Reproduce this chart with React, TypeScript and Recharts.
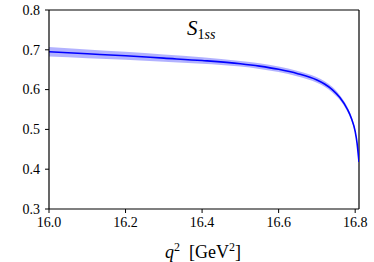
import React from "react";
import { ComposedChart, Area, Line, XAxis, YAxis, ReferenceLine } from "recharts";

const q2 = [16.0, 16.1, 16.2, 16.3, 16.4, 16.5, 16.55, 16.6, 16.65, 16.7, 16.72, 16.74, 16.76, 16.78, 16.79, 16.8, 16.805, 16.81];
const central = [0.695, 0.690, 0.685, 0.679, 0.673, 0.665, 0.659, 0.651, 0.640, 0.624, 0.614, 0.600, 0.580, 0.550, 0.528, 0.495, 0.465, 0.418];
const err = [0.012, 0.011, 0.010, 0.009, 0.008, 0.007, 0.007, 0.007, 0.007, 0.007, 0.007, 0.007, 0.006, 0.006, 0.005, 0.004, 0.003, 0.002];
const xTicks = [16.0, 16.2, 16.4, 16.6, 16.8];
const yTicks = [0.3, 0.4, 0.5, 0.6, 0.7, 0.8];

const data = q2.map((x, i) => ({
  x,
  y: central[i],
  band: [central[i] - err[i], central[i] + err[i]],
}));

const FONT = "Liberation Serif";

const XTick = (props: any) => {
  const { x, y, payload } = props;
  return (
    <text x={x} y={y + 11} textAnchor="middle" fontFamily={FONT} fontSize={14} fill="#000">
      {Number(payload.value).toFixed(1)}
    </text>
  );
};

const YTick = (props: any) => {
  const { x, y, payload } = props;
  return (
    <text x={x} y={y + 4.8} textAnchor="end" fontFamily={FONT} fontSize={14} fill="#000">
      {Number(payload.value).toFixed(1)}
    </text>
  );
};

export default function App() {
  return (
    <div style={{ position: "absolute", left: 0, top: 0, width: 374, height: 262, background: "#fff" }}>
      <ComposedChart
        width={374}
        height={262}
        data={data}
        margin={{ top: 10, right: 15, bottom: 0, left: 9 }}
      >
        <XAxis
          dataKey="x"
          type="number"
          domain={[16.0, 16.81]}
          ticks={xTicks}
          allowDataOverflow
          height={53}
          tickSize={4}
          tickMargin={3}
          tick={<XTick />}
          stroke="#000"
          axisLine={{ stroke: "#000", strokeWidth: 1.2 }}
          tickLine={{ stroke: "#000", strokeWidth: 1 }}
        />
        <YAxis
          type="number"
          domain={[0.3, 0.8]}
          ticks={yTicks}
          allowDataOverflow
          width={40}
          tickSize={4}
          tickMargin={5}
          tick={<YTick />}
          axisLine={{ stroke: "#000", strokeWidth: 1.2 }}
          tickLine={{ stroke: "#000", strokeWidth: 1 }}
        />
        <ReferenceLine y={0.8} stroke="#000" strokeWidth={1.2} />
        <ReferenceLine x={16.81} stroke="#000" strokeWidth={1.2} />
        <Area
          dataKey="band"
          type="monotone"
          fill="#0000ff"
          fillOpacity={0.3}
          stroke="none"
          isAnimationActive={false}
        />
        <Line
          dataKey="y"
          type="monotone"
          stroke="#0000ff"
          strokeWidth={1.6}
          dot={false}
          isAnimationActive={false}
        />
      </ComposedChart>
      <div
        style={{
          position: "absolute",
          left: 187,
          top: 18,
          fontFamily: FONT,
          fontSize: 21,
          lineHeight: "20px",
          color: "#000",
          whiteSpace: "nowrap",
        }}
      >
        <i>S</i>
        <sub style={{ fontSize: 14, fontStyle: "italic", verticalAlign: "-4px" }}>
          <span style={{ fontStyle: "normal" }}>1</span>ss
        </sub>
      </div>
      <div
        style={{
          position: "absolute",
          left: 165,
          top: 238,
          fontFamily: FONT,
          fontSize: 18,
          lineHeight: "18px",
          color: "#000",
          whiteSpace: "nowrap",
        }}
      >
        <i>q</i>
        <sup style={{ fontSize: 12, verticalAlign: "7px" }}>2</sup>
        {"\u00a0\u00a0[GeV"}
        <sup style={{ fontSize: 12, verticalAlign: "7px" }}>2</sup>]
      </div>
    </div>
  );
}
